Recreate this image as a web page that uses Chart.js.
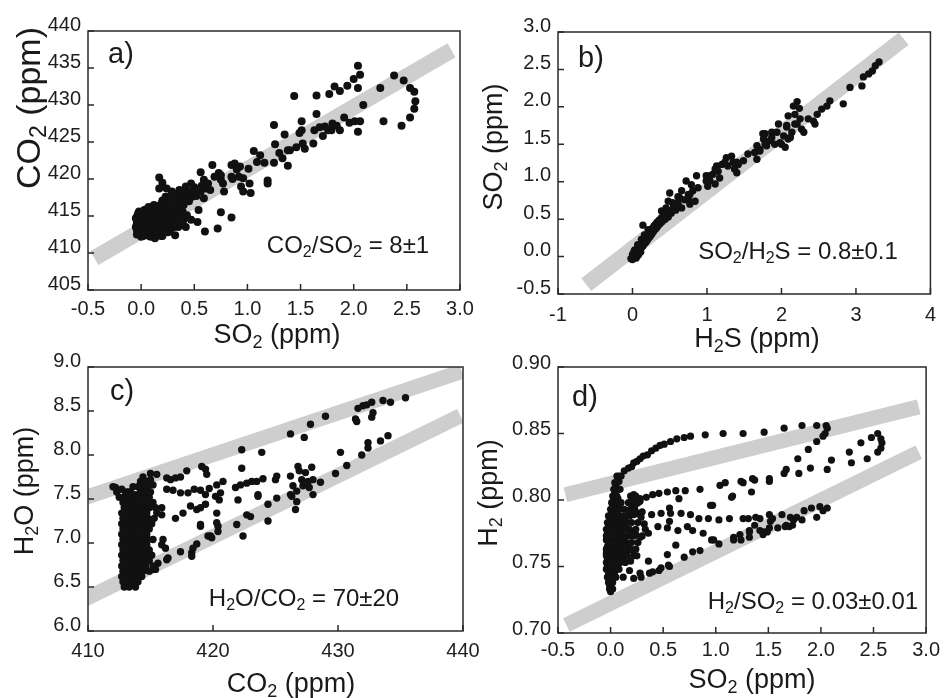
<!DOCTYPE html>
<html><head><meta charset="utf-8">
<script src="https://cdn.jsdelivr.net/npm/chart.js@4"></script>
<style>html,body{margin:0;padding:0;background:#fff;width:945px;height:698px;overflow:hidden}canvas{position:absolute;left:0;top:0}</style>
</head><body>
<canvas id="ca" width="945" height="698"></canvas>
<canvas id="cb" width="945" height="698"></canvas>
<canvas id="cc" width="945" height="698"></canvas>
<canvas id="cd" width="945" height="698"></canvas>
<script>
// ---------- tick values / labels ----------
const aXTicks=[-0.5,0,0.5,1,1.5,2,2.5,3], aXLabels=['-0.5','0.0','0.5','1.0','1.5','2.0','2.5','3.0'];
const aYTicks=[405,410,415,420,425,430,435,440], aYLabels=['405','410','415','420','425','430','435','440'];
const bXTicks=[-1,0,1,2,3,4], bXLabels=['-1','0','1','2','3','4'];
const bYTicks=[-0.5,0,0.5,1,1.5,2,2.5,3], bYLabels=['-0.5','0.0','0.5','1.0','1.5','2.0','2.5','3.0'];
const cXTicks=[410,420,430,440], cXLabels=['410','420','430','440'];
const cYTicks=[6,6.5,7,7.5,8,8.5,9], cYLabels=['6.0','6.5','7.0','7.5','8.0','8.5','9.0'];
const dXTicks=[-0.5,0,0.5,1,1.5,2,2.5,3], dXLabels=['-0.5','0.0','0.5','1.0','1.5','2.0','2.5','3.0'];
const dYTicks=[0.70,0.75,0.80,0.85,0.90], dYLabels=['0.70','0.75','0.80','0.85','0.90'];

// ---------- fitted ratio bands (end points) ----------
const aBandX=[-0.44,2.92], aBandY=[409.3,437.4];
const bBandX=[-0.62,3.64], bBandY=[-0.375,2.91];
const cBandUpX=[409,439.9], cBandUpY=[7.48,8.95];
const cBandLoX=[409,439.8], cBandLoY=[6.31,8.445];
const dBandUpX=[-0.43,2.93], dBandUpY=[0.804,0.870];
const dBandLoX=[-0.42,2.93], dBandLoY=[0.706,0.836];

// ---------- panel a: SO2 (x) vs CO2 (y) ----------
const aPts=[[1.44,431.2],[1.65,431.3],[1.77,431.5],[1.82,432.5],[1.87,431.9],[1.94,432.6],[2.00,433.5],[2.04,435.3],[2.06,434.1],[2.04,432.3],[2.09,430.0],[2.25,432.3],[2.38,434.0],[2.47,433.3],[2.53,432.3],[2.57,431.8],[2.58,430.5],[2.57,429.5],[2.53,428.3],[2.45,427.2],[2.28,427.8],
[1.65,428.8],[1.91,428.3],[1.96,427.6],[2.01,427.8],[2.06,427.8],[2.04,426.4],[1.51,427.8],[1.49,426.2],[1.51,426.6],[1.25,427.3],[1.35,426.0],[1.26,424.7],
[1.63,426.6],[1.68,427.0],[1.71,425.8],[1.76,426.6],[1.80,427.5],[1.79,426.6],[1.87,426.6],[1.84,427.2],[1.73,427.1],
[1.46,424.3],[1.52,424.8],[1.54,424.1],[1.62,424.8],[1.40,423.9],[1.38,423.9],[1.30,423.5],[1.33,422.8],[1.38,421.8],[1.25,422.2],[1.16,422.2],[1.09,422.3],[1.12,423.2],[1.06,423.8],
[1.19,419.8],[1.19,419.4],[1.03,418.1],[1.02,419.4],[0.96,420.1],[0.94,419.0],[0.96,418.3],[0.85,421.9],[0.88,422.1],[0.93,421.7],[0.90,421.3],[0.85,420.3],[0.86,420.0],[0.92,420.3],[1.01,421.4],[0.77,419.4],[0.78,418.3],[0.69,420.3],[0.73,420.8],[0.75,419.9],[0.75,420.5],[0.67,421.9],[0.56,420.9],[0.59,419.9],[0.63,419.4],[0.61,418.7],[0.65,418.5],[0.57,419.1],
[0.47,419.4],[0.50,418.9],[0.53,418.2],[0.43,418.1],[0.40,417.4],[0.48,417.6],[0.59,417.4],[0.45,417.0],[0.37,417.0],[0.32,417.8],[0.36,418.5],[0.42,419.0],[0.29,418.3],[0.26,417.6],[0.17,420.2],[0.20,419.5],[0.17,418.7],[0.24,418.7],[0.23,417.6],[0.20,416.9],[0.15,416.2],[0.24,416.4],[0.30,416.9],[0.35,416.4],[0.32,415.7],[0.39,415.6],[0.43,415.1],[0.40,414.5],[0.36,414.9],[0.54,415.8],[0.47,414.5],[0.53,414.2],[0.42,413.5],[0.60,412.9],[0.72,413.3],[0.75,415.5],[0.85,414.8],
[-0.04,414.9],[-0.04,414.0],[-0.04,413.1],[-0.04,412.5],[0.01,415.4],[0.01,414.5],[0.01,413.6],[0.01,412.7],[0.06,415.1],[0.06,414.2],[0.06,413.4],[0.06,412.4],[0.10,415.6],[0.10,414.8],[0.10,413.9],[0.10,413.1],[0.13,412.0],[0.15,415.4],[0.15,414.5],[0.15,413.6],[0.17,412.7],[0.20,415.1],[0.20,414.2],[0.21,413.3],[0.25,415.6],[0.25,414.8],[0.25,413.8],[0.29,415.1],[0.29,414.2],[0.31,413.5],[0.12,416.3],[0.07,416.2],[0.03,415.8],[-0.02,415.6],[0.32,412.4],[0.25,412.8],[0.09,412.2],[0.00,412.2],[0.04,413.0],[0.08,413.8],[0.12,414.3],[0.18,414.0],[0.22,414.6],[0.03,414.0],[0.14,412.4],[0.19,412.3]];
// dense core of panel a
const aCore=[[0.02,412.3],[0.08,412.3],[0.14,412.3],[0.20,412.3],
[-0.03,412.9],[0.03,412.9],[0.09,412.9],[0.15,412.9],[0.21,412.9],[0.27,412.9],
[-0.05,413.5],[0.00,413.5],[0.06,413.5],[0.12,413.5],[0.18,413.5],[0.24,413.5],[0.30,413.5],[0.35,413.5],
[-0.04,414.1],[0.02,414.1],[0.08,414.1],[0.14,414.1],[0.20,414.1],[0.26,414.1],[0.32,414.1],[0.38,414.1],
[-0.05,414.7],[0.00,414.7],[0.06,414.7],[0.12,414.7],[0.18,414.7],[0.24,414.7],[0.30,414.7],
[-0.03,415.3],[0.03,415.3],[0.08,415.3],[0.13,415.3],[0.18,415.3],[0.23,415.3],[0.28,415.3],[0.34,415.3],
[0.05,415.9],[0.10,415.9],[0.17,415.9],[0.22,415.9],[0.27,415.9],[0.33,415.9],
[0.12,416.5],[0.18,416.5],[0.28,416.5],[0.33,416.5],[0.40,416.5],
[0.20,417.1],[0.26,417.1],[0.33,417.1],[0.42,417.1],
[0.28,417.7],[0.36,417.7],[0.44,417.7],[0.52,417.7],
[0.38,418.3],[0.46,418.3],[0.56,418.3]];

// ---------- panel b: H2S (x) vs SO2 (y) ----------
const bPts=[[0.00,-0.04],[0.01,0.02],[0.02,-0.01],[0.03,0.05],[0.04,0.01],[0.05,0.08],[0.06,0.04],[0.07,0.11],[0.08,0.06],[0.09,0.13],[0.10,0.09],[0.11,0.16],[0.12,0.12],[0.13,0.19],[0.14,0.14],[0.15,0.22],[0.16,0.17],[0.17,0.24],[0.18,0.19],[0.19,0.27],[0.20,0.22],[0.21,0.30],[0.22,0.25],[0.23,0.32],[0.24,0.27],[0.25,0.35],[0.26,0.30],[0.27,0.38],[0.28,0.33],[0.29,0.41],[0.30,0.36],[0.31,0.43],[0.32,0.38],[0.33,0.46],[0.34,0.41],[0.36,0.49],[0.37,0.44],[0.39,0.52],[0.40,0.47],[0.42,0.55],[0.44,0.50],[0.46,0.58],[0.48,0.53],[0.14,0.42],[0.03,0.09],[0.07,0.16],[0.12,0.23],[0.16,0.29],[0.21,0.36],
[0.50,0.61],[0.39,0.61],[0.54,0.63],[0.61,0.70],[0.54,0.72],[0.66,0.65],[0.70,0.76],[0.63,0.79],[0.75,0.83],[0.77,0.70],[0.84,0.74],[0.81,0.88],[0.88,0.92],[0.86,1.08],[0.99,1.01],[1.04,1.08],[1.01,0.94],[1.15,1.14],[1.20,1.23],[1.28,1.21],[1.17,1.05],[1.40,1.26],[1.33,1.34],[1.37,1.17],[1.49,1.28],[1.55,1.37],[1.67,1.30],[1.71,1.41],[1.80,1.48],[1.78,1.64],[1.87,1.59],[1.94,1.66],[1.98,1.52],[2.07,1.73],[2.12,1.59],[2.18,1.77],
[1.40,1.12],[1.42,1.23],[1.35,1.26],[1.26,1.32],[1.24,1.26],[1.13,1.21],[1.11,1.17],[1.08,1.10],[0.99,1.08],[1.11,0.97],[1.04,1.01],[0.72,1.01],[0.79,0.96],[0.66,0.88],[0.61,0.80],[0.61,0.72],[0.48,0.74],[0.45,0.65],[0.50,0.85],[0.77,0.83],[0.75,0.76],
[2.21,2.07],[2.16,2.01],[2.24,1.98],[2.18,1.90],[2.25,1.84],[2.09,1.88],[2.21,1.77],[2.07,1.75],[2.27,1.70],[2.14,1.66],[2.03,1.61],[2.09,1.57],[2.00,1.50],[2.05,1.46],[2.30,1.66],[1.96,1.77],[1.87,1.66],[1.85,1.55],[1.76,1.57],[1.67,1.48],[1.64,1.39],[1.75,1.64],[1.78,1.50],[1.91,1.50],[1.71,1.43],[2.36,1.84],[2.48,1.90],[2.43,1.81],[2.45,1.77],[2.54,1.97],[2.61,2.01],[2.65,2.08],[2.83,2.04],[2.92,2.26],[3.08,2.28],[3.10,2.40],[3.17,2.44],[3.22,2.48],[3.26,2.55],[3.31,2.60]];
// dense tail of panel b
const bCore=[[0.02,0.04],[0.05,0.03],[0.06,0.10],[0.09,0.08],[0.10,0.15],[0.13,0.13],[0.14,0.20],[0.17,0.19],[0.18,0.25],[0.21,0.24],[0.22,0.31],[0.25,0.30],[0.26,0.36],[0.29,0.35],[0.30,0.42],[0.33,0.40],[0.35,0.47],[0.38,0.46],[0.41,0.52],[0.43,0.53],[0.45,0.56],[0.47,0.60],[0.52,0.58],[0.55,0.66],[0.58,0.62],[0.60,0.66],[-0.02,-0.03],[0.00,0.03],[0.02,0.07],[0.05,-0.02],[0.08,0.02],[0.11,0.06]];

// ---------- panel c: CO2 (x) vs H2O (y) ----------
const cPts=[[435.4,8.65],[434.2,8.60],[433.6,8.62],[432.7,8.60],[432.3,8.57],[432.0,8.56],[431.6,8.53],[432.8,8.48],[432.7,8.43],[431.4,8.41],[431.5,8.38],[429.0,8.44],[427.8,8.35],[427.3,8.20],[426.2,8.24],[423.9,8.03],[422.3,8.06],[422.3,7.85],
[434.0,8.22],[433.4,8.16],[432.4,8.14],[432.4,8.08],[431.9,8.00],[430.7,7.88],[430.2,8.03],[429.8,7.79],
[426.8,7.87],[426.9,7.82],[426.2,7.76],[427.4,7.80],[427.9,7.86],[427.1,7.72],[426.4,7.65],[427.6,7.70],[428.0,7.72],[428.6,7.69],[427.2,7.65],[426.3,7.53],[426.7,7.59],[428.0,7.55],[426.7,7.47],[426.6,7.38],[426.2,7.55],[427.7,7.63],
[425.1,7.76],[425.0,7.72],[424.0,7.73],[423.5,7.70],[423.1,7.70],[425.1,7.51],[424.4,7.44],[423.6,7.55],[424.4,7.25],[423.0,7.30],
[422.0,7.49],[421.8,7.63],[422.2,7.66],[422.7,7.68],[423.6,7.53],[422.4,7.08],[421.9,7.21],[422.7,7.32],[420.3,7.66],[420.2,7.53],[420.8,7.70],[420.3,7.34],[420.3,7.23],[419.0,7.21],[419.8,7.08],[418.7,6.99],[417.4,6.90],[418.3,6.89],[418.4,6.94],[416.0,7.04],[415.9,6.98],
[416.3,7.74],[416.6,7.72],[417.0,7.74],[417.4,7.75],[417.9,7.82],[419.1,7.87],[419.4,7.84],[419.5,7.78],[416.3,7.61],[416.8,7.60],[417.4,7.57],[418.0,7.57],[418.5,7.61],[419.0,7.60],[419.4,7.55],[419.7,7.62],[415.9,7.40],[415.9,7.32],[417.0,7.28],[417.6,7.34],[418.2,7.42],[418.7,7.38],[419.0,7.40],[419.4,7.44],[416.3,6.81],[415.6,6.77],[416.4,6.83],[415.2,6.70],[416.2,6.94],[418.3,6.85],[419.6,7.08],[419.9,7.06],[420.4,7.19],[420.4,7.13],[419.0,7.19],[420.5,7.49],[420.6,7.57],
[412.2,7.63],[412.7,7.61],[413.2,7.58],[413.8,7.55],[414.4,7.75],[415.0,7.79],[415.5,7.78],[414.7,7.68],[414.2,7.70],[415.2,7.66]];
// dense block of panel c
const cCore=[[412.9,6.50],[413.3,6.50],[413.8,6.50],
[412.8,6.56],[413.2,6.56],[413.6,6.56],[414.0,6.56],
[412.7,6.62],[413.1,6.62],[413.5,6.62],[413.9,6.62],[414.3,6.62],
[412.8,6.68],[413.2,6.68],[413.6,6.68],[414.0,6.68],[414.4,6.68],[414.9,6.68],[415.4,6.70],
[412.7,6.74],[413.1,6.74],[413.5,6.74],[413.9,6.74],[414.3,6.74],[414.6,6.74],[415.2,6.74],
[412.8,6.80],[413.2,6.80],[413.6,6.80],[414.0,6.80],[414.4,6.80],[414.9,6.80],
[412.7,6.86],[413.1,6.86],[413.5,6.86],[413.9,6.86],[414.3,6.86],[414.7,6.86],[415.1,6.86],
[412.8,6.92],[413.2,6.92],[413.6,6.92],[414.0,6.92],[414.4,6.92],[414.9,6.92],
[412.7,6.98],[413.1,6.98],[413.5,6.98],[413.9,6.98],[414.3,6.98],[414.7,6.98],
[412.8,7.04],[413.2,7.04],[413.6,7.04],[414.0,7.04],[414.4,7.04],[414.8,7.04],[415.2,7.04],
[412.7,7.10],[413.1,7.10],[413.5,7.10],[413.9,7.10],[414.3,7.10],[414.7,7.10],
[412.8,7.16],[413.2,7.16],[413.6,7.16],[414.0,7.16],[414.4,7.16],[414.9,7.16],
[412.7,7.22],[413.1,7.22],[413.5,7.22],[413.9,7.22],[414.3,7.22],[414.7,7.22],[415.1,7.22],
[412.8,7.28],[413.2,7.28],[413.6,7.28],[414.0,7.28],[414.4,7.28],[414.8,7.28],[415.3,7.28],
[412.7,7.34],[413.1,7.34],[413.5,7.34],[413.9,7.34],[414.3,7.34],[414.7,7.34],[415.5,7.34],
[412.9,7.40],[413.3,7.40],[413.7,7.40],[414.1,7.40],[414.5,7.40],[414.9,7.40],[415.4,7.40],
[412.8,7.46],[413.2,7.46],[413.6,7.46],[414.0,7.46],[414.4,7.46],[414.8,7.46],[415.2,7.46],
[412.5,7.52],[412.9,7.52],[413.3,7.52],[413.7,7.52],[414.1,7.52],[414.5,7.52],[414.9,7.52],
[412.3,7.58],[413.0,7.58],[413.4,7.58],[414.2,7.58],[414.6,7.58],[415.0,7.58],
[412.0,7.64],[413.6,7.64],[414.0,7.64],[414.4,7.64],[414.8,7.64],
[414.6,7.70],[415.0,7.72]];

// ---------- panel d: SO2 (x) vs H2 (y) ----------
const dPts=[[0.00,0.731],[-0.01,0.736],[0.01,0.740],[-0.02,0.744],[0.02,0.746],[-0.03,0.750],[0.01,0.750],[0.05,0.752],[-0.03,0.755],[0.02,0.756],[0.07,0.756],[-0.04,0.760],[0.00,0.760],[0.04,0.761],[0.09,0.760],[-0.03,0.765],[0.01,0.765],[0.05,0.766],[0.10,0.764],[-0.04,0.770],[0.00,0.770],[0.04,0.771],[0.08,0.770],[-0.03,0.775],[0.01,0.776],[0.05,0.776],[0.10,0.774],[-0.02,0.780],[0.02,0.781],[0.06,0.780],[0.00,0.785],[0.04,0.786],[0.01,0.790],[0.05,0.791],[0.02,0.795],[0.06,0.796],[0.03,0.800],[0.07,0.801],[0.04,0.805],[0.07,0.808],[0.05,0.811],[0.08,0.814],[0.10,0.818],[0.13,0.822],
[0.10,0.785],[0.14,0.787],[0.18,0.788],[0.22,0.789],[0.26,0.790],[0.30,0.791],[0.12,0.780],[0.16,0.778],[0.20,0.776],[0.24,0.774],[0.28,0.772],[0.13,0.770],[0.17,0.766],[0.21,0.762],[0.25,0.758],[0.15,0.760],[0.12,0.755],[0.19,0.754],[0.20,0.795],[0.21,0.800],[0.22,0.804],[0.17,0.792],[0.24,0.797],[0.28,0.799],
[0.04,0.746],[0.12,0.742],[0.22,0.741],[0.29,0.742],[0.37,0.745],[0.46,0.747],[0.56,0.750],[0.18,0.747],[0.28,0.745],[0.40,0.746],[0.48,0.749],[0.55,0.751],[0.36,0.754],[0.54,0.759],[0.70,0.757],[0.78,0.761],[0.85,0.762],[0.62,0.766],
[0.17,0.824],[0.20,0.825],[0.22,0.828],[0.25,0.829],[0.28,0.831],[0.31,0.833],[0.35,0.834],[0.39,0.837],[0.43,0.839],[0.47,0.841],[0.51,0.842],[0.57,0.844],[0.63,0.846],[0.70,0.847],[0.76,0.848],[0.90,0.849],[1.07,0.850],[1.26,0.850],[1.46,0.851],[1.65,0.854],[1.82,0.856],[1.96,0.856],[2.05,0.856],[2.06,0.854],[2.04,0.850],[2.02,0.848],[1.96,0.844],[1.88,0.838],[1.78,0.831],[1.67,0.823],[1.65,0.820],[1.51,0.816],[1.51,0.814],[1.37,0.815],[1.26,0.813],[1.34,0.806],
[2.10,0.830],[2.06,0.823],[1.90,0.824],[1.79,0.820],[2.27,0.836],[2.29,0.828],[2.38,0.843],[2.48,0.847],[2.54,0.850],[2.57,0.846],[2.58,0.843],[2.57,0.839],[2.54,0.836],[2.44,0.831],
[0.28,0.801],[0.34,0.802],[0.40,0.804],[0.46,0.805],[0.54,0.806],[0.62,0.807],[0.71,0.807],[0.85,0.808],[1.04,0.811],[1.09,0.813],[1.24,0.814],[1.35,0.816],[0.65,0.801],[0.56,0.794],[0.95,0.796],[1.15,0.802],[1.16,0.803],[0.97,0.796],
[0.29,0.787],[0.39,0.789],[0.48,0.790],[0.57,0.790],[0.67,0.790],[0.76,0.789],[0.84,0.786],[0.93,0.786],[1.03,0.785],[1.13,0.786],[1.31,0.786],[1.42,0.786],
[0.45,0.780],[0.54,0.779],[0.64,0.777],[0.78,0.777],[0.88,0.775],[0.96,0.770],[1.03,0.767],[1.17,0.772],[1.23,0.774],[0.36,0.775],[0.56,0.784],[0.32,0.782],[0.73,0.780],[0.98,0.770],[1.17,0.770],[1.32,0.776],[1.42,0.777],[1.49,0.776],[1.59,0.779],[1.66,0.780],[1.73,0.781],
[1.26,0.786],[1.38,0.787],[1.51,0.789],[1.54,0.786],[1.52,0.784],[1.63,0.789],[1.71,0.787],[1.74,0.785],[1.77,0.787],[1.82,0.785],[1.84,0.792],[1.91,0.794],[1.99,0.795],[2.02,0.792],[2.06,0.794],[1.96,0.787],[1.67,0.781],[1.70,0.780],[1.51,0.779],[1.46,0.776],[1.45,0.774],[1.32,0.772],[1.32,0.777],[1.37,0.781],[1.24,0.770]];
// dense trunk of panel d
const dCore=[[-0.01,0.733],[0.02,0.733],[-0.02,0.738],[0.02,0.738],[-0.03,0.742],[0.01,0.742],[0.05,0.742],
[-0.04,0.748],[0.00,0.748],[0.04,0.748],[0.08,0.748],
[-0.04,0.753],[0.00,0.753],[0.04,0.753],[0.09,0.753],[0.14,0.753],
[-0.04,0.758],[0.02,0.758],[0.06,0.758],[0.11,0.758],[0.16,0.758],[0.22,0.758],
[-0.04,0.763],[0.03,0.763],[0.07,0.763],[0.13,0.763],[0.19,0.763],[0.24,0.763],
[-0.02,0.768],[0.02,0.768],[0.06,0.768],[0.11,0.768],[0.15,0.768],[0.20,0.768],[0.26,0.768],
[-0.04,0.773],[0.03,0.773],[0.07,0.773],[0.13,0.773],[0.18,0.773],[0.22,0.773],[0.30,0.773],
[-0.04,0.778],[0.00,0.778],[0.04,0.778],[0.09,0.778],[0.14,0.778],[0.18,0.778],[0.24,0.778],[0.33,0.778],
[-0.03,0.783],[0.02,0.783],[0.07,0.783],[0.11,0.783],[0.16,0.783],[0.20,0.783],[0.26,0.783],
[-0.02,0.788],[0.03,0.788],[0.08,0.788],[0.12,0.788],
[0.00,0.793],[0.04,0.793],[0.09,0.793],[0.13,0.793],[0.19,0.793],[0.23,0.793],
[0.01,0.798],[0.05,0.798],[0.10,0.798],[0.17,0.798],[0.23,0.798],[0.26,0.798],
[0.02,0.803],[0.06,0.803],[0.19,0.803],[0.24,0.803],
[0.03,0.808],[0.09,0.808],[0.04,0.813],[0.06,0.813],[0.06,0.818],[0.08,0.818]];

// ---------- drawing helpers ----------
const FONT='"Liberation Sans", Arial, Helvetica, sans-serif';
function drawRich(ctx,str,x,y,size,align,rot){
  const parts=[];str.split('₂').forEach((s,i)=>{if(i>0)parts.push(['2',1]);if(s)parts.push([s,0]);});
  const f0=size+'px '+FONT, f1=Math.round(size*0.68)+'px '+FONT;
  let w=0;parts.forEach(p=>{ctx.font=p[1]?f1:f0;p.w=ctx.measureText(p[0]).width;w+=p.w;});
  ctx.save();ctx.translate(x,y);if(rot)ctx.rotate(-Math.PI/2);
  let sx=align==='center'?-w/2:(align==='right'?-w:0);
  ctx.fillStyle='#1a1a1a';ctx.textAlign='left';ctx.textBaseline='alphabetic';
  parts.forEach(p=>{ctx.font=p[1]?f1:f0;ctx.fillText(p[0],sx,p[1]?size*0.17:0);sx+=p.w;});
  ctx.restore();
}
function makeDeco(texts,xTicks,yTicks){
  return {id:'deco',
    afterDatasetsDraw(chart){
      const ctx=chart.ctx,a=chart.chartArea,xs=chart.scales.x,ys=chart.scales.y;
      ctx.save();ctx.strokeStyle='#2a2a2a';ctx.lineWidth=1.5;
      ctx.strokeRect(a.left,a.top,a.right-a.left,a.bottom-a.top);
      ctx.beginPath();
      xTicks.forEach(v=>{const p=xs.getPixelForValue(v);ctx.moveTo(p,a.bottom);ctx.lineTo(p,a.bottom-6);});
      yTicks.forEach(v=>{const p=ys.getPixelForValue(v);ctx.moveTo(a.left,p);ctx.lineTo(a.left+6,p);});
      ctx.stroke();ctx.restore();
    },
    afterDraw(chart){texts.forEach(t=>drawRich(chart.ctx,t.s,t.x,t.y,t.size,t.align||'left',t.rot));}
  };
}
function panel(id,c){
  const ds=[{type:'scatter',data:c.pts.map(p=>({x:p[0],y:p[1]})),pointRadius:c.r,pointBackgroundColor:'#111',pointBorderWidth:0,pointBorderColor:'#111'}];
  c.bands.forEach(b=>ds.push({type:'line',data:[{x:b[0][0],y:b[1][0]},{x:b[0][1],y:b[1][1]}],borderColor:'#cecece',borderWidth:c.bw,pointRadius:0,borderCapStyle:'butt',showLine:true,fill:false,clip:c.clip}));
  const tickFont={family:FONT,size:20};
  new Chart(document.getElementById(id),{
    type:'scatter',data:{datasets:ds},
    options:{responsive:false,animation:false,devicePixelRatio:1,events:[],
      layout:{padding:{left:c.area.l-50,top:c.area.t,right:945-c.area.r,bottom:698-c.area.b-40}},
      plugins:{legend:{display:false},tooltip:{enabled:false}},
      scales:{
        x:{type:'linear',position:'bottom',min:c.xMin,max:c.xMax,
          afterFit(s){s.height=40;},afterBuildTicks(s){s.ticks=c.xT.map(v=>({value:v}));},
          ticks:{callback:(v,i)=>c.xL[i],font:tickFont,color:'#1e1e1e',padding:c.xPad,maxRotation:0,autoSkip:false},
          grid:{display:false,drawTicks:false},border:{display:false}},
        y:{type:'linear',position:'left',min:c.yMin,max:c.yMax,
          afterFit(s){s.width=50;},afterBuildTicks(s){s.ticks=c.yT.map(v=>({value:v}));},
          ticks:{callback:(v,i)=>c.yL[i],font:tickFont,color:'#1e1e1e',padding:7,labelOffset:c.yOff,autoSkip:false},
          grid:{display:false,drawTicks:false},border:{display:false}}
      }},
    plugins:[makeDeco(c.texts,c.xT,c.yT)]
  });
}

panel('ca',{area:{l:88,t:31,r:460,b:290},xMin:-0.5,xMax:3,yMin:405,yMax:440,xT:aXTicks,xL:aXLabels,yT:aYTicks,yL:aYLabels,
  pts:aPts.concat(aCore),r:4,bands:[[aBandX,aBandY]],bw:16,clip:false,xPad:7,yOff:-6,
  texts:[{s:'a)',x:108,y:63,size:29},{s:'CO₂/SO₂ = 8±1',x:348,y:252.5,size:24,align:'center'},
         {s:'SO₂ (ppm)',x:277,y:343,size:27,align:'center'},{s:'CO₂ (ppm)',x:40,y:108,size:34,align:'center',rot:true}]});
panel('cb',{area:{l:558,t:32,r:931,b:294},xMin:-1,xMax:4,yMin:-0.5,yMax:3,xT:bXTicks,xL:bXLabels,yT:bYTicks,yL:bYLabels,
  pts:bPts.concat(bCore),r:3.7,bands:[[bBandX,bBandY]],bw:16,clip:false,xPad:9,yOff:-6,
  texts:[{s:'b)',x:578,y:67,size:29},{s:'SO₂/H₂S = 0.8±0.1',x:798,y:258.5,size:24,align:'center'},
         {s:'H₂S (ppm)',x:757,y:347,size:27,align:'center'},{s:'SO₂ (ppm)',x:502,y:147,size:27,align:'center',rot:true}]});
panel('cc',{area:{l:88,t:367,r:463,b:631},xMin:410,xMax:440,yMin:6,yMax:9,xT:cXTicks,xL:cXLabels,yT:cYTicks,yL:cYLabels,
  pts:cPts.concat(cCore),r:3.7,bands:[[cBandUpX,cBandUpY],[cBandLoX,cBandLoY]],bw:15,clip:0,xPad:8,yOff:-6,
  texts:[{s:'c)',x:110,y:400,size:29},{s:'H₂O/CO₂ = 70±20',x:304,y:605.5,size:24,align:'center'},
         {s:'CO₂ (ppm)',x:291,y:692,size:27,align:'center'},{s:'H₂O (ppm)',x:33,y:491,size:27,align:'center',rot:true}]});
panel('cd',{area:{l:558,t:367,r:932,b:633},xMin:-0.5,xMax:3,yMin:0.70,yMax:0.90,xT:dXTicks,xL:dXLabels,yT:dYTicks,yL:dYLabels,
  pts:dPts.concat(dCore),r:3.6,bands:[[dBandUpX,dBandUpY],[dBandLoX,dBandLoY]],bw:15,clip:false,xPad:5,yOff:-4,
  texts:[{s:'d)',x:572,y:406,size:29},{s:'H₂/SO₂ = 0.03±0.01',x:813,y:608.5,size:24,align:'center'},
         {s:'SO₂ (ppm)',x:752,y:688,size:27,align:'center'},{s:'H₂ (ppm)',x:497,y:493,size:27,align:'center',rot:true}]});
</script>
</body></html>
